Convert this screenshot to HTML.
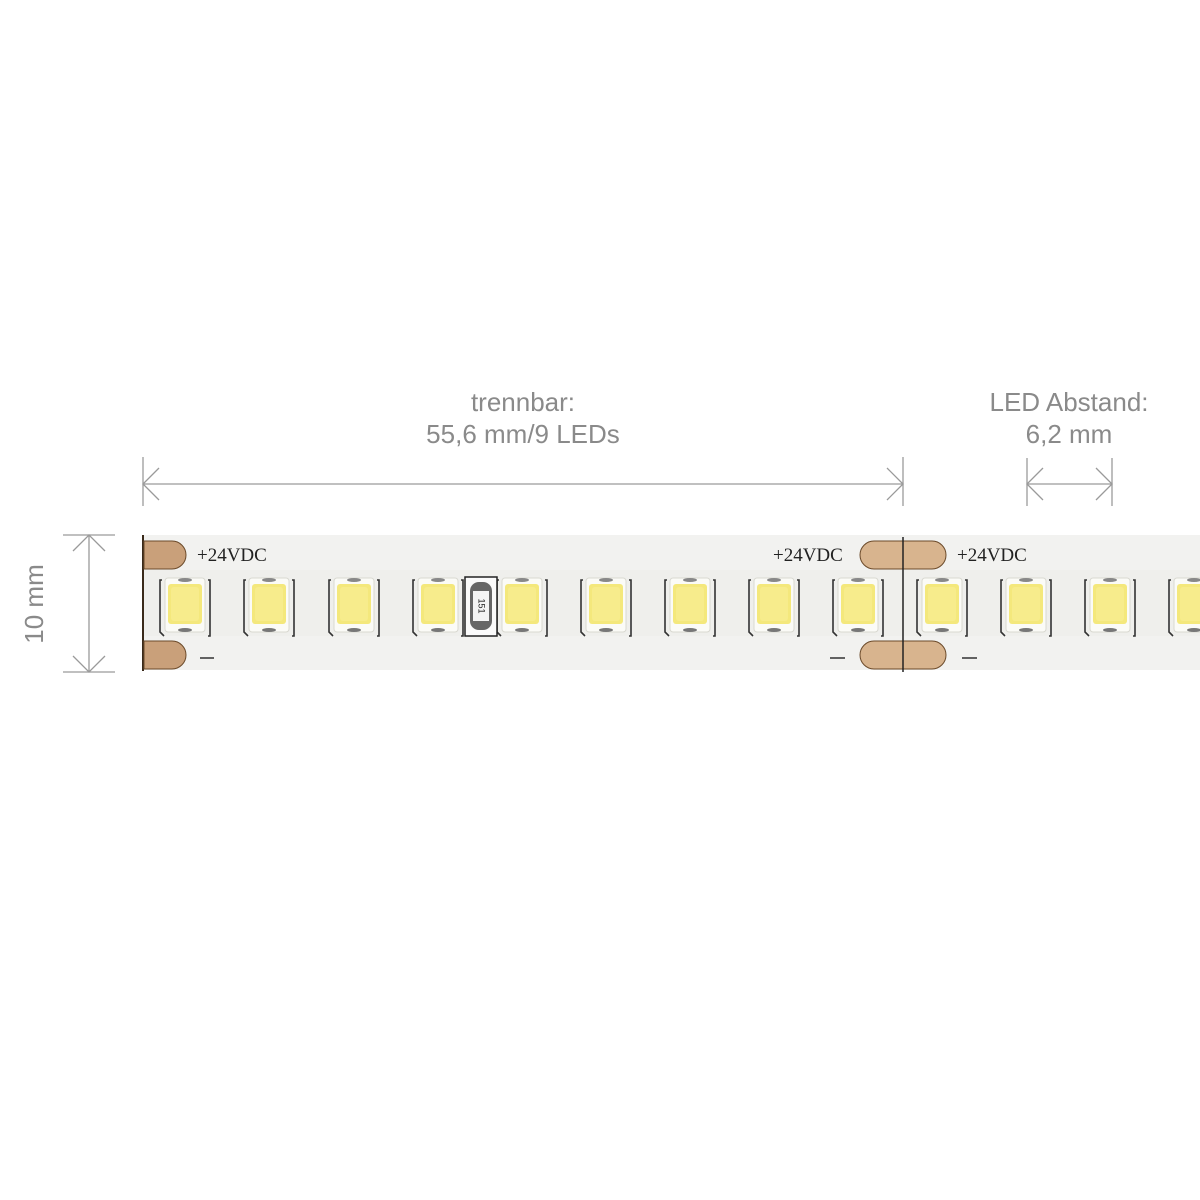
<!DOCTYPE html>
<html><head><style>
html,body{margin:0;padding:0;background:#fff;width:1200px;height:1200px;overflow:hidden}
</style></head><body>
<svg width="1200" height="1200" viewBox="0 0 1200 1200" xmlns="http://www.w3.org/2000/svg">
<defs>
<g id="led">
  <path d="M-23,-24 h-2 v52 l4,4" fill="none" stroke="#333" stroke-width="1.6"/>
  <path d="M23,-24 h2 v56 h-2" fill="none" stroke="#333" stroke-width="1.6"/>
  <rect x="-20" y="-26" width="40" height="54" rx="3" fill="#fbfbf7" stroke="#d8d8d0"/>
  <ellipse cx="0" cy="-24" rx="7" ry="2" fill="#888"/>
  <ellipse cx="0" cy="26" rx="7" ry="2" fill="#777"/>
  <rect x="-17" y="-20" width="34" height="40" rx="3" fill="#f4e87c"/>
  <rect x="-14" y="-17" width="28" height="34" rx="3" fill="#f7ec8c"/>
</g>
</defs>
<rect x="143" y="535" width="1057" height="135" fill="#f2f2f0"/>
<rect x="143" y="570" width="1057" height="66" fill="#efefec"/>
<line x1="143" y1="535" x2="143" y2="671" stroke="#3a2a1a" stroke-width="2"/>
<path d="M144,541 h28 a14,14 0 0 1 0,28 h-28z" fill="#c9a07a" stroke="#6b4a2a"/>
<path d="M144,641 h28 a14,14 0 0 1 0,28 h-28z" fill="#c9a07a" stroke="#6b4a2a"/>
<rect x="860" y="541" width="86" height="28" rx="14" fill="#d8b48e" stroke="#6b4a2a"/>
<rect x="860" y="641" width="86" height="28" rx="14" fill="#d8b48e" stroke="#6b4a2a"/>
<line x1="903" y1="537" x2="903" y2="672" stroke="#222" stroke-width="1.5"/>
<g font-family="Liberation Serif, serif" font-size="19" fill="#222">
<text x="197" y="561">+24VDC</text>
<text x="773" y="561">+24VDC</text>
<text x="957" y="561">+24VDC</text>
</g>
<g stroke="#333" stroke-width="1.5">
<line x1="200" y1="658" x2="214" y2="658"/>
<line x1="830" y1="658" x2="845" y2="658"/>
<line x1="962" y1="658" x2="977" y2="658"/>
</g>
<use href="#led" x="185" y="604"/>
<use href="#led" x="269" y="604"/>
<use href="#led" x="354" y="604"/>
<use href="#led" x="438" y="604"/>
<use href="#led" x="522" y="604"/>
<use href="#led" x="606" y="604"/>
<use href="#led" x="690" y="604"/>
<use href="#led" x="774" y="604"/>
<use href="#led" x="858" y="604"/>
<use href="#led" x="942" y="604"/>
<use href="#led" x="1026" y="604"/>
<use href="#led" x="1110" y="604"/>
<use href="#led" x="1194" y="604"/>
<rect x="465" y="577" width="32" height="59" fill="#fafafa" stroke="#222" stroke-width="1.5"/>
<rect x="470" y="582" width="22" height="48" rx="9" fill="#666" />
<rect x="473" y="591" width="16" height="30" fill="#f4f4f4"/>
<text x="481" y="606" font-family="Liberation Sans, sans-serif" font-size="9" fill="#222" text-anchor="middle" dominant-baseline="middle" transform="rotate(90 481 606)">151</text>
<g stroke="#9a9a9a" stroke-width="1.3" fill="none">
<line x1="143" y1="457" x2="143" y2="506"/>
<line x1="903" y1="457" x2="903" y2="506"/>
<line x1="143" y1="484" x2="903" y2="484"/>
<polyline points="159,468 143,484 159,500"/>
<polyline points="887,468 903,484 887,500"/>
<line x1="1027" y1="458" x2="1027" y2="506"/>
<line x1="1112" y1="458" x2="1112" y2="506"/>
<line x1="1027" y1="484" x2="1112" y2="484"/>
<polyline points="1043,468 1027,484 1043,500"/>
<polyline points="1096,468 1112,484 1096,500"/>
<line x1="63" y1="535" x2="115" y2="535"/>
<line x1="63" y1="672" x2="115" y2="672"/>
<line x1="89" y1="535" x2="89" y2="672"/>
<polyline points="73,551 89,535 105,551"/>
<polyline points="73,656 89,672 105,656"/>
</g>
<g font-family="Liberation Sans, sans-serif" font-size="26" fill="#8a8a8a" text-anchor="middle">
<text x="523" y="411">trennbar:</text>
<text x="523" y="443">55,6 mm/9 LEDs</text>
<text x="1069" y="411">LED Abstand:</text>
<text x="1069" y="443">6,2 mm</text>
<text x="43" y="604" transform="rotate(-90 43 604)">10 mm</text>
</g>
</svg>
</body></html>
